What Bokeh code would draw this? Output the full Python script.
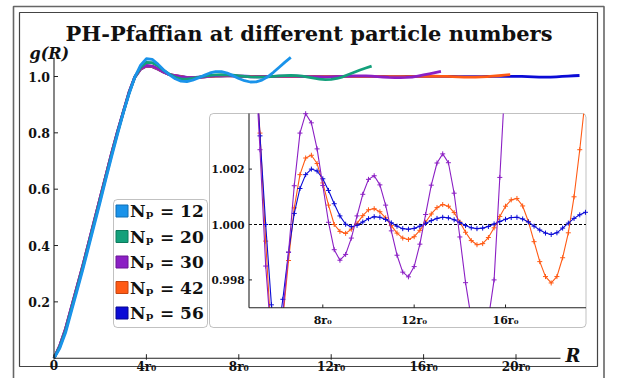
from bokeh.plotting import figure
from bokeh.models import Range1d, BoxAnnotation
from bokeh.core.properties import value
from bokeh.embed import file_html
from bokeh.resources import INLINE

# ---------------- data ----------------
R_GRID = [0.0, 0.25, 0.5, 0.75, 1.0, 1.25, 1.5, 1.75, 2.0, 2.25, 2.5, 2.75,
          3.0, 3.25, 3.5, 3.75, 4.0, 4.25, 4.5, 4.75, 5.0, 5.25, 5.5, 5.75,
          6.0, 6.25, 6.5, 6.75, 7.0, 7.25, 7.5, 7.75, 8.0, 8.25, 8.5, 8.75,
          9.0, 9.25, 9.5, 9.75, 10.0, 10.25, 10.5, 10.75, 11.0, 11.25, 11.5, 11.75,
          12.0, 12.25, 12.5, 12.75, 13.0, 13.25, 13.5, 13.75, 14.0, 14.25, 14.5, 14.75,
          15.0, 15.25, 15.5, 15.75, 16.0, 16.25, 16.5, 16.75, 17.0, 17.25, 17.5, 17.75,
          18.0, 18.25, 18.5, 18.75, 19.0, 19.25, 19.5, 19.75, 20.0, 20.25, 20.5, 20.75,
          21.0, 21.25, 21.5, 21.75, 22.0, 22.25, 22.5, 22.75]

G_N12 = [0.0, 0.035, 0.09, 0.165, 0.24, 0.315, 0.395, 0.475, 0.555, 0.637,
         0.717, 0.795, 0.87, 0.938, 0.998, 1.04, 1.063, 1.061, 1.044, 1.023,
         1.006, 0.992, 0.9835, 0.9822, 0.987, 0.995, 1.004, 1.0125, 1.0175, 1.0172,
         1.012, 1.003, 0.993, 0.985, 0.9805, 0.981, 0.987, 0.999, 1.015, 1.033,
         1.051, 1.068]

G_N20 = [0.0, 0.04, 0.098, 0.173, 0.248, 0.323, 0.403, 0.483, 0.563, 0.644,
         0.724, 0.80, 0.873, 0.941, 0.998, 1.033, 1.050, 1.049, 1.038, 1.022,
         1.008, 0.997, 0.9915, 0.991, 0.993, 0.997, 1.001, 1.004, 1.006, 1.0065,
         1.006, 1.0045, 1.0025, 1.0005, 0.999, 0.998, 0.998, 0.999, 1.0005, 1.002,
         1.003, 1.0035, 1.003, 1.001, 0.998, 0.994, 0.9905, 0.989, 0.9895, 0.993,
         0.999, 1.007, 1.015, 1.023, 1.030, 1.037]

G_N30 = [0.0, 0.045, 0.105, 0.18, 0.255, 0.33, 0.41, 0.49, 0.57, 0.65,
         0.73, 0.805, 0.875, 0.945, 1.0, 1.028, 1.039, 1.037, 1.028, 1.016,
         1.0065, 1.0027, 0.9985, 0.9958, 0.9956, 0.9968, 0.9990, 1.0014, 1.0033, 1.0040,
         1.00367, 1.00273, 1.00141, 1.00008, 0.99909, 0.99871, 0.99892, 0.99951, 1.00031, 1.00109,
         1.00163, 1.00176, 1.00143, 1.00070, 0.99977, 0.99889, 0.99828, 0.99811, 0.99848, 0.99929,
         1.00036, 1.00142, 1.00222, 1.00255, 1.00223, 1.00113, 0.99955, 0.99790, 0.99661, 0.99601,
         0.9962, 0.9966, 0.9980, 1.0017, 1.0055, 1.0093, 1.0135, 1.018]

G_N42 = [0.0, 0.043, 0.103, 0.178, 0.253, 0.328, 0.408, 0.488, 0.568, 0.648,
         0.728, 0.803, 0.873, 0.943, 0.998, 1.027, 1.038, 1.036, 1.027, 1.016,
         1.0065, 1.0033, 0.9994, 0.9958, 0.9952, 0.9966, 0.9987, 1.0006, 1.0018, 1.0024,
         1.0025, 1.0022, 1.0015, 1.0007, 1.0000, 0.99975, 0.99968, 0.99983, 1.00004, 1.00032,
         1.00053, 1.00057, 1.00046, 1.00024, 0.99996, 0.99969, 0.99951, 0.99946, 0.99956, 0.99979,
         1.00008, 1.00038, 1.00061, 1.00072, 1.00066, 1.00043, 1.00009, 0.99972, 0.99942, 0.99927,
         0.99931, 0.99953, 0.99988, 1.00029, 1.00066, 1.00089, 1.00094, 1.00067, 1.00011, 0.99938,
         0.99866, 0.99812, 0.99789, 0.99812, 0.99880, 0.99970, 1.00100, 1.00270, 1.00460, 1.00660]

G_N56 = [0.0, 0.044, 0.104, 0.179, 0.254, 0.329, 0.409, 0.489, 0.569, 0.649,
         0.729, 0.804, 0.874, 0.944, 0.997, 1.026, 1.037, 1.035, 1.026, 1.015,
         1.0068, 1.0032, 1.0000, 0.9971, 0.9958, 0.9973, 0.9990, 1.0004, 1.0013, 1.0018,
         1.0020, 1.00193, 1.00165, 1.00123, 1.00075, 1.00031, 1.00001, 0.99992, 0.99997, 1.00009,
         1.00021, 1.00028, 1.00026, 1.00018, 1.00006, 0.99994, 0.99985, 0.99983, 0.99986, 0.99994,
         1.00004, 1.00014, 1.00022, 1.00026, 1.00024, 1.00017, 1.00007, 0.99996, 0.99988, 0.99985,
         0.99987, 0.99993, 1.00002, 1.00011, 1.00019, 1.00025, 1.00026, 1.00020, 1.00009, 0.99994,
         0.99980, 0.99969, 0.99964, 0.99970, 0.99987, 1.00005, 1.00022, 1.00035, 1.00044, 1.00048,
         1.00040, 1.00010, 0.99950, 0.99870, 0.99800, 0.99770, 0.99800, 0.99900, 1.00030, 1.00150,
         1.00260, 1.00360]

SERIES_N = [12, 20, 30, 42, 56]
SERIES_G = [G_N12, G_N20, G_N30, G_N42, G_N56]
SERIES_COLORS = ["#1a93ea", "#13a07b", "#8b1fc4", "#ff5a14", "#0b0bd6"]
SERIES_EDGE = ["#0f6fb5", "#0c7a5c", "#6a1596", "#c44510", "#06068f"]
LEGEND_LABELS = ["Nₚ = 12", "Nₚ = 20", "Nₚ = 30", "Nₚ = 42", "Nₚ = 56"]
INSET_SERIES = [42, 56, 30]

TITLE = "PH-Pfaffian at different particle numbers"
Y_LABEL = "g(R)"
X_LABEL = "R"
Y_TICKS = [0.2, 0.4, 0.6, 0.8, 1.0]
Y_TICK_LABELS = ["0.2", "0.4", "0.6", "0.8", "1.0"]
X_TICKS = [0, 4, 8, 12, 16, 20]
X_TICK_LABELS = ["0", "4r₀", "8r₀", "12r₀", "16r₀", "20r₀"]
INSET_X_TICKS = [8, 12, 16]
INSET_X_TICK_LABELS = ["8r₀", "12r₀", "16r₀"]
INSET_Y_TICKS = [0.998, 1.000, 1.002]
INSET_Y_TICK_LABELS = ["0.998", "1.000", "1.002"]
REF_LEVEL = 1.0

# ---------------- layout (page pixels) ----------------
OFF = 0                          # the canvas starts at page (0, 0)
W, H = 620, 378
R0_PX, R_PX = 53.5, 23.1        # main: R=0 position, px per r0
G0_PY, G_PX = 357.7, 281.7      # main: g=0 position, px per unit
IR8_PX, IR_PX = 322.3, 22.84    # inset: R=8 position, px per r0
IG1_PY, IG_PX = 224.0, 27700.0  # inset: g=1 position, px per unit


def X(px):
    return (px - R0_PX) / R_PX


def Y(py):
    return (G0_PY - py) / G_PX


def IX(px):
    return 8 + (px - IR8_PX) / IR_PX


def IY(py):
    return 1 + (IG1_PY - py) / IG_PX


FONT = value("DejaVu Serif")

p = figure(width=W, height=H, title=None,
           x_range=Range1d(X(OFF), X(OFF + W)), y_range=Range1d(Y(OFF + H), Y(OFF)),
           x_axis_type=None, y_axis_type=None, toolbar_location=None,
           output_backend="svg", min_border=0, outline_line_color=None,
           background_fill_color="white", border_fill_color="white")
p.extra_x_ranges = {"ix": Range1d(IX(OFF), IX(OFF + W))}
p.extra_y_ranges = {"iy": Range1d(IY(OFF + H), IY(OFF))}

# frames (double border)
p.quad(left=[X(13)], right=[X(603.5)], top=[Y(6)], bottom=[Y(430)],
       fill_alpha=0, line_color="#666666", line_width=1.6)
p.quad(left=[X(19)], right=[X(597)], top=[Y(12)], bottom=[Y(366)],
       fill_alpha=0, line_color="#444444", line_width=1.2)

# title
p.text(x=[X(308.5)], y=[Y(33)], text=[TITLE], text_font=FONT, text_font_style="bold",
       text_font_size="21px", text_align="center", text_baseline="alphabetic",
       text_color="#111111")

# ---------------- main curves ----------------
series = {n: (g, c, e) for n, g, c, e in zip(SERIES_N, SERIES_G, SERIES_COLORS, SERIES_EDGE)}
for n in reversed(SERIES_N):
    g, c, _ = series[n]
    p.line(R_GRID[:len(g)], g, line_color=c, line_width=2.8, line_join="round")

# main axes
p.segment(x0=[0], y0=[0], x1=[X(560)], y1=[0], line_color="#222222", line_width=1.1)
p.segment(x0=[0], y0=[0], x1=[0], y1=[Y(57)], line_color="#222222", line_width=1.1)
p.segment(x0=[0] * len(Y_TICKS), y0=Y_TICKS, x1=[X(R0_PX + 4)] * len(Y_TICKS), y1=Y_TICKS,
          line_color="#222222", line_width=1)
p.segment(x0=X_TICKS, y0=[Y(G0_PY + 1.5)] * len(X_TICKS), x1=X_TICKS,
          y1=[Y(G0_PY - 4)] * len(X_TICKS), line_color="#222222", line_width=1)
p.text(x=[X(49.5)] * len(Y_TICKS), y=Y_TICKS, text=Y_TICK_LABELS, text_font=FONT,
       text_font_style="bold", text_font_size="12.5px", text_align="right",
       text_baseline="middle", text_color="#111111")
p.text(x=X_TICKS, y=[Y(359.5)] * len(X_TICKS), text=X_TICK_LABELS, text_font=FONT,
       text_font_style="bold", text_font_size="12px", text_align="center",
       text_baseline="top", text_color="#111111")
p.text(x=[X(29)], y=[Y(52.5)], text=[Y_LABEL], text_font=FONT,
       text_font_style="bold italic", text_font_size="16px", text_align="left",
       text_baseline="alphabetic", text_color="#111111")
p.text(x=[X(565)], y=[Y(354.5)], text=[X_LABEL], text_font=FONT,
       text_font_style="bold italic", text_font_size="18px", text_align="left",
       text_baseline="alphabetic", text_color="#111111")

# ---------------- legend ----------------
p.add_layout(BoxAnnotation(left=X(113), right=X(207), top=Y(199), bottom=Y(327),
                           fill_color="white", fill_alpha=1, line_color="#333333",
                           line_width=1, border_radius=4, level="underlay"))
ROW_PY = [210.5, 236, 261.5, 287, 312.5]
p.scatter(x=[X(121.5)] * 5, y=[Y(v) for v in ROW_PY], marker="square", size=12,
          fill_color=SERIES_COLORS, line_color=SERIES_EDGE, line_width=1)
p.text(x=[X(129.5)] * 5, y=[Y(v) for v in ROW_PY], text=LEGEND_LABELS, text_font=FONT,
       text_font_style="bold", text_font_size="17px", text_align="left",
       text_baseline="middle", text_color="#111111")

# ---------------- inset ----------------
p.add_layout(BoxAnnotation(left=X(209), right=X(585.5), top=Y(113), bottom=Y(327),
                           fill_color="white", fill_alpha=1, line_color="#333333",
                           line_width=1, border_radius=4, level="underlay"))
IX0, IX1 = IX(248.5), IX(585.5)
IY0, IY1 = IY(307.3), IY(113)


def clip_polyline(xs, ys, x0, x1, y0, y1):
    pieces, cx, cy = [], [], []
    for i in range(len(xs) - 1):
        ax, ay, bx, by = xs[i], ys[i], xs[i + 1], ys[i + 1]
        dx, dy = bx - ax, by - ay
        t0, t1, ok = 0.0, 1.0, True
        for pp, qq in ((-dx, ax - x0), (dx, x1 - ax), (-dy, ay - y0), (dy, y1 - ay)):
            if pp == 0:
                if qq < 0:
                    ok = False
                    break
            else:
                t = qq / pp
                if pp < 0:
                    if t > t1:
                        ok = False
                        break
                    t0 = max(t0, t)
                else:
                    if t < t0:
                        ok = False
                        break
                    t1 = min(t1, t)
        if not ok:
            if cx:
                pieces.append((cx, cy))
                cx, cy = [], []
            continue
        sx, sy = ax + t0 * dx, ay + t0 * dy
        ex, ey = ax + t1 * dx, ay + t1 * dy
        if not cx or t0 > 0:
            if cx:
                pieces.append((cx, cy))
            cx, cy = [sx], [sy]
        cx.append(ex)
        cy.append(ey)
        if t1 < 1:
            pieces.append((cx, cy))
            cx, cy = [], []
    if cx:
        pieces.append((cx, cy))
    return pieces


p.segment(x0=[IX0], y0=[REF_LEVEL], x1=[IX1], y1=[REF_LEVEL], line_color="black",
          line_width=1, line_dash="3 2", x_range_name="ix", y_range_name="iy")

for n in INSET_SERIES:
    g, c, _ = series[n]
    r = R_GRID[:len(g)]
    pieces = clip_polyline(r, g, IX0, IX1, IY0, IY1)
    p.multi_line(xs=[pc[0] for pc in pieces], ys=[pc[1] for pc in pieces], line_color=c,
                 line_width=1.1, x_range_name="ix", y_range_name="iy")
    mx = [a for a, b in zip(r, g) if IX0 <= a <= IX1 and IY0 <= b <= IY1]
    my = [b for a, b in zip(r, g) if IX0 <= a <= IX1 and IY0 <= b <= IY1]
    p.scatter(mx, my, marker="cross", size=5, line_color=c, line_width=1,
              x_range_name="ix", y_range_name="iy")

# inset axes
p.segment(x0=[IX0, IX0], y0=[IY0, IY0], x1=[IX0, IX1], y1=[IY1, IY0],
          line_color="#222222", line_width=1.1, x_range_name="ix", y_range_name="iy")
p.segment(x0=INSET_X_TICKS, y0=[IY0] * 3, x1=INSET_X_TICKS, y1=[IY(304)] * 3,
          line_color="#222222", line_width=1, x_range_name="ix", y_range_name="iy")
p.segment(x0=[IX0] * 3, y0=INSET_Y_TICKS, x1=[IX(251.5)] * 3, y1=INSET_Y_TICKS,
          line_color="#222222", line_width=1, x_range_name="ix", y_range_name="iy")
p.text(x=[IX(244)] * 3, y=INSET_Y_TICKS, text=INSET_Y_TICK_LABELS, text_font=FONT,
       text_font_style="bold", text_font_size="10.5px", text_align="right",
       text_baseline="middle", text_color="#111111", x_range_name="ix", y_range_name="iy")
p.text(x=INSET_X_TICKS, y=[IY(313.5)] * 3, text=INSET_X_TICK_LABELS, text_font=FONT,
       text_font_style="bold", text_font_size="11px", text_align="center",
       text_baseline="top", text_color="#111111", x_range_name="ix", y_range_name="iy")

open("out.html", "w").write(file_html(p, INLINE))
